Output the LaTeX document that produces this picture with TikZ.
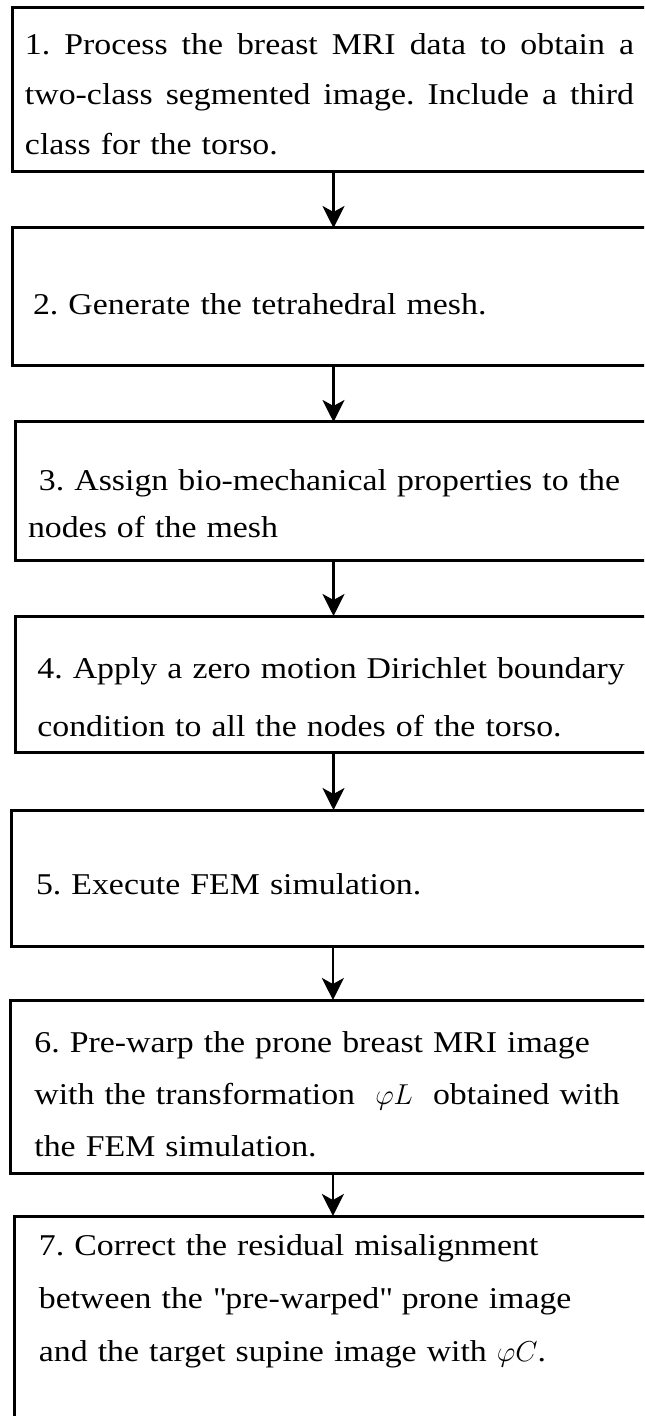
\documentclass[tikz,border=0pt]{standalone}
\usepackage{fontspec}
\setmainfont{Liberation Serif}[FakeStretch=1.12]
\usetikzlibrary{arrows.meta,positioning}
\tolerance=10000
\hbadness=10000
\frenchspacing
\tikzset{
  >={Stealth[length=11pt,width=11pt,inset=3pt]},
  every node/.style={font=\fontsize{15.1pt}{26pt}\selectfont,text=black},
  stepbox/.style={draw=black,line width=1.5pt,fill=white,anchor=north west,outer sep=0pt,
    text width=310pt,align=left,inner xsep=10pt,inner ysep=0pt},
  arrow/.style={->,line width=1.4pt,draw=black},
}
\newcommand{\fullline}[1]{\leavevmode\hbox to 304.5pt{\spaceskip=\fontdimen2\font plus 1fil\relax #1}}

\begin{document}
\begin{tikzpicture}[node distance=28pt]
\useasboundingbox (0,0) rectangle (322pt,-708pt);
\clip (0,0) rectangle (322pt,-708pt);

% segmentation
\node[stepbox,minimum height=82pt,inner xsep=6.5pt,text width=317pt,
  font=\fontsize{15.1pt}{25pt}\selectfont,text height=15.2pt] (seg) at (6pt,-4pt)
{\fullline{1. Process the breast MRI data to obtain a}\\
\fullline{two-class segmented image. Include a third}\\
class for the torso.};

% mesh
\node[stepbox,minimum height=69pt,inner xsep=10.5pt,text width=309pt,text height=18.2pt,
  below=of seg.south west,anchor=north west] (mesh)
{2. Generate the tetrahedral mesh.};
\draw[arrow] ([xshift=160.75pt]seg.south west) -- ([xshift=160.75pt]seg.south west |- mesh.north);

% properties
\node[stepbox,minimum height=69pt,inner xsep=6.5pt,text width=317pt,
  font=\fontsize{15.1pt}{23.5pt}\selectfont,text height=22.7pt,
  below=of mesh.south west,anchor=north west,xshift=1.5pt] (props)
{\hspace*{5.5pt}3. Assign bio-mechanical properties to the\\
nodes of the mesh};
\draw[arrow] ([xshift=160.75pt]mesh.south west) -- ([xshift=160.75pt]mesh.south west |- props.north);

% boundary condition
\node[stepbox,minimum height=68pt,inner xsep=11.2pt,text width=307pt,
  font=\fontsize{15.1pt}{29pt}\selectfont,text height=24.2pt,
  below=of props.south west,anchor=north west] (bc)
{4. Apply a zero motion Dirichlet boundary\\
condition to all the nodes of the torso.};
\draw[arrow] ([xshift=159.25pt]props.south west) -- ([xshift=159.25pt]props.south west |- bc.north);

% simulation
\node[stepbox,minimum height=68pt,inner xsep=12.3pt,text width=305pt,text height=17.2pt,
  below=29pt of bc.south west,anchor=north west,xshift=-1.8pt] (fem)
{5. Execute FEM simulation.};
\draw[arrow] ([xshift=159.25pt]bc.south west) -- ([xshift=159.25pt]bc.south west |- fem.north);

% pre-warp
\node[stepbox,minimum height=86.5pt,inner xsep=11.75pt,text width=307pt,text height=18.7pt,
  below=27pt of fem.south west,anchor=north west,xshift=-0.25pt] (prewarp)
{6. Pre-warp the prone breast MRI image\\
with the transformation \ $\varphi L$ \ obtained with\\
the FEM simulation.};
\draw[arrow] ([xshift=160.75pt]fem.south west) -- ([xshift=160.75pt]fem.south west |- prewarp.north);

% correction
\node[stepbox,inner xsep=12pt,text width=306pt,font=\fontsize{15.1pt}{26.5pt}\selectfont,
  text height=19.5pt,text depth=130pt,below=21.5pt of prewarp.south west,anchor=north west,xshift=2pt] (correct)
{7. Correct the residual misalignment\\
between the \textquotedbl pre-warped\textquotedbl{} prone image\\
and the target supine image with $\varphi C$.};
\draw[arrow] ([xshift=161pt]prewarp.south west) -- ([xshift=161pt]prewarp.south west |- correct.north);

\end{tikzpicture}
\end{document}
